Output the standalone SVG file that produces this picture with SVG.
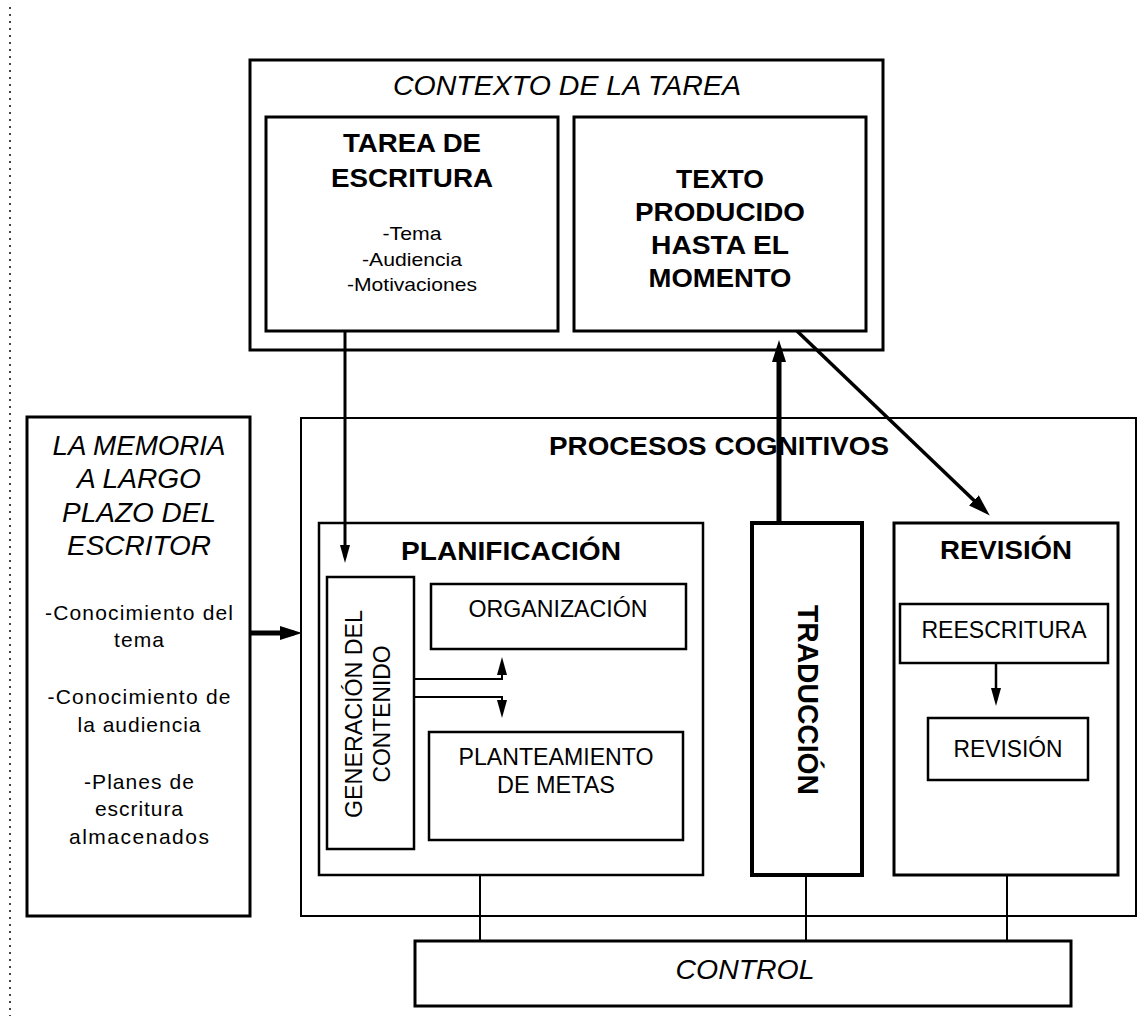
<svg xmlns="http://www.w3.org/2000/svg" width="1138" height="1016" viewBox="0 0 1138 1016">
<style>
.box{fill:#fff;stroke:#000;stroke-width:3}
.s2{stroke-width:2}
.s25{stroke-width:2.5}
.s4{stroke-width:4}
text{font-family:"Liberation Sans",Arial,Helvetica,sans-serif;fill:#000}
.b{font-weight:bold}
.i{font-style:italic}
.c{text-anchor:middle}
.conn line,.conn polyline{stroke:#000;fill:none}
</style>
<defs>
<marker id="an" markerUnits="userSpaceOnUse" markerWidth="18" markerHeight="10" refX="12" refY="5" orient="auto"><path d="M0,0 L18,5 L0,10 z" fill="#000"/></marker>
<marker id="ab" markerUnits="userSpaceOnUse" markerWidth="22" markerHeight="14" refX="14" refY="7" orient="auto"><path d="M0,0 L22,7 L0,14 z" fill="#000"/></marker>
</defs>
<rect width="1138" height="1016" fill="#fff"/>
<line x1="10" y1="7" x2="10" y2="1016" stroke="#444" stroke-width="2" stroke-dasharray="2 5"/>

<g id="contexto">
<rect class="box" x="250" y="60" width="633" height="290"/>
<text class="i c" x="567" y="95" font-size="28" textLength="348" lengthAdjust="spacingAndGlyphs">CONTEXTO DE LA TAREA</text>
</g>
<g id="tarea">
<rect class="box" x="266" y="117" width="292" height="214"/>
<text class="b c" x="412" y="152" font-size="26" textLength="138" lengthAdjust="spacingAndGlyphs">TAREA DE</text>
<text class="b c" x="412" y="187" font-size="26" textLength="162" lengthAdjust="spacingAndGlyphs">ESCRITURA</text>
<text class="c" x="412" y="240" font-size="19" textLength="59" lengthAdjust="spacingAndGlyphs">-Tema</text>
<text class="c" x="412" y="266" font-size="19" textLength="100" lengthAdjust="spacingAndGlyphs">-Audiencia</text>
<text class="c" x="412" y="291" font-size="19" textLength="130" lengthAdjust="spacingAndGlyphs">-Motivaciones</text>
</g>
<g id="texto">
<rect class="box" x="574" y="117" width="292" height="214"/>
<text class="b c" x="720" y="188" font-size="26" textLength="88" lengthAdjust="spacingAndGlyphs">TEXTO</text>
<text class="b c" x="720" y="221" font-size="26" textLength="170" lengthAdjust="spacingAndGlyphs">PRODUCIDO</text>
<text class="b c" x="720" y="254" font-size="26" textLength="138" lengthAdjust="spacingAndGlyphs">HASTA EL</text>
<text class="b c" x="720" y="287" font-size="26" textLength="143" lengthAdjust="spacingAndGlyphs">MOMENTO</text>
</g>
<g id="memoria">
<rect class="box" x="27" y="417" width="223" height="499"/>
<text class="i c" x="139" y="455" font-size="27" textLength="173" lengthAdjust="spacingAndGlyphs">LA MEMORIA</text>
<text class="i c" x="139" y="488" font-size="27" textLength="124" lengthAdjust="spacingAndGlyphs">A LARGO</text>
<text class="i c" x="139" y="522" font-size="27" textLength="154" lengthAdjust="spacingAndGlyphs">PLAZO DEL</text>
<text class="i c" x="139" y="555" font-size="27" textLength="144" lengthAdjust="spacingAndGlyphs">ESCRITOR</text>
<text class="c" x="139" y="620" font-size="21" textLength="188">-Conocimiento del</text>
<text class="c" x="139" y="647" font-size="21" textLength="50">tema</text>
<text class="c" x="139" y="704" font-size="21" textLength="183">-Conocimiento de</text>
<text class="c" x="139" y="732" font-size="21" textLength="123">la audiencia</text>
<text class="c" x="139" y="789" font-size="21" textLength="110">-Planes de</text>
<text class="c" x="139" y="816" font-size="21" textLength="88">escritura</text>
<text class="c" x="139" y="844" font-size="21" textLength="140">almacenados</text>
</g>
<g id="procesos">
<rect class="box s2" x="301" y="418" width="835" height="498"/>
<text class="b c" x="719" y="455" font-size="26" textLength="340" lengthAdjust="spacingAndGlyphs">PROCESOS COGNITIVOS</text>
</g>
<g id="planificacion">
<rect class="box s25" x="319" y="523" width="384" height="352"/>
<text class="b c" x="511" y="560" font-size="26" textLength="220" lengthAdjust="spacingAndGlyphs">PLANIFICACIÓN</text>
</g>
<g id="generacion">
<rect class="box s25" x="327" y="577" width="87" height="272"/>
<text class="c" transform="translate(362,714) rotate(-90)" font-size="24" textLength="208" lengthAdjust="spacingAndGlyphs">GENERACIÓN DEL</text>
<text class="c" transform="translate(390,714) rotate(-90)" font-size="24" textLength="137" lengthAdjust="spacingAndGlyphs">CONTENIDO</text>
</g>
<g id="organizacion">
<rect class="box s25" x="431" y="584" width="255" height="65"/>
<text class="c" x="558" y="617" font-size="23" textLength="179" lengthAdjust="spacingAndGlyphs">ORGANIZACIÓN</text>
</g>
<g id="planteamiento">
<rect class="box s25" x="429" y="732" width="254" height="108"/>
<text class="c" x="556" y="765" font-size="23" textLength="195" lengthAdjust="spacingAndGlyphs">PLANTEAMIENTO</text>
<text class="c" x="556" y="793" font-size="23" textLength="118" lengthAdjust="spacingAndGlyphs">DE METAS</text>
</g>
<g id="traduccion">
<rect class="box s4" x="752" y="523" width="110" height="352"/>
<text class="b c" transform="translate(798,700) rotate(90)" font-size="29" textLength="190" lengthAdjust="spacingAndGlyphs">TRADUCCIÓN</text>
</g>
<g id="revision">
<rect class="box" x="894" y="523" width="224" height="352" stroke-width="3.5"/>
<text class="b c" x="1006" y="559" font-size="26" textLength="132" lengthAdjust="spacingAndGlyphs">REVISIÓN</text>
</g>
<g id="reescritura">
<rect class="box s25" x="900" y="604" width="208" height="59"/>
<text class="c" x="1004" y="638" font-size="23" textLength="165" lengthAdjust="spacingAndGlyphs">REESCRITURA</text>
</g>
<g id="revision-interna">
<rect class="box s25" x="928" y="718" width="160" height="62"/>
<text class="c" x="1008" y="757" font-size="23" textLength="109" lengthAdjust="spacingAndGlyphs">REVISIÓN</text>
</g>
<g id="control">
<rect class="box" x="415" y="941" width="656" height="65"/>
<text class="i c" x="745" y="979" font-size="28" textLength="139" lengthAdjust="spacingAndGlyphs">CONTROL</text>
</g>

<g class="conn" id="connectors">
<line x1="345" y1="331" x2="345" y2="557" stroke-width="3" marker-end="url(#an)"/>
<line x1="250" y1="633" x2="294" y2="633" stroke-width="5" marker-end="url(#ab)"/>
<line x1="779" y1="523" x2="779" y2="348" stroke-width="5" marker-end="url(#ab)"/>
<line x1="797" y1="331" x2="984" y2="510" stroke-width="3.5" marker-end="url(#ab)"/>
<polyline points="414,679 502,679 502,663" stroke-width="2" marker-end="url(#an)"/>
<polyline points="414,697 502,697 502,712" stroke-width="2" marker-end="url(#an)"/>
<line x1="996" y1="663" x2="996" y2="700" stroke-width="2.5" marker-end="url(#an)"/>
<line x1="480" y1="875" x2="480" y2="941" stroke-width="2"/>
<line x1="806" y1="875" x2="806" y2="941" stroke-width="2"/>
<line x1="1007" y1="875" x2="1007" y2="941" stroke-width="2"/>
</g>
</svg>
